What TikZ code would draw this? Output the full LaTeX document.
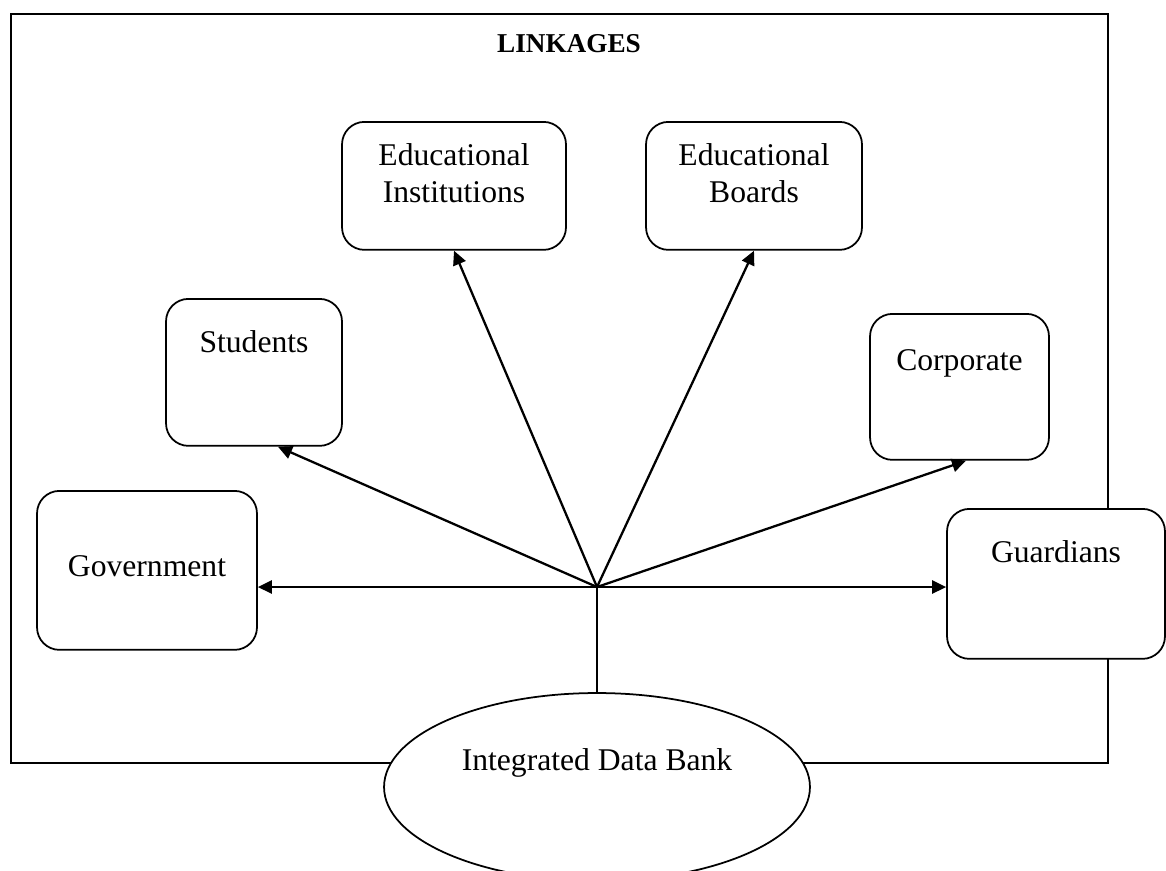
\documentclass[tikz,border=0pt]{standalone}
\usepackage{fontspec}
\setmainfont{Liberation Serif}
\usetikzlibrary{arrows.meta, shapes.geometric}

\begin{document}
\begin{tikzpicture}[x=0.02cm, y=-0.02cm,
    box/.style={draw, line width=1pt, rounded corners=0.45cm, fill=white,
        inner xsep=0pt, inner ysep=0pt, anchor=north, font=\fontsize{18}{21}\selectfont},
    link/.style={line width=1.3pt, -{Triangle[length=8pt, width=7.5pt]}}]

    \useasboundingbox (0,0) rectangle (1166,870);

    % 外框和标题
    \draw[line width=1.3pt] (11,14) rectangle (1108,763);
    \node[anchor=base, font=\fontsize{15.5}{18}\selectfont\bfseries] (title) at (569,52) {LINKAGES};

    % 各个方框
    \node[box, minimum width=4.48cm, text height=1.62cm, text depth=0.94cm] (inst) at (454,121)
        {\begin{tabular}[b]{@{}c@{}}Educational\\Institutions\end{tabular}};
    \node[box, minimum width=4.32cm, text height=1.62cm, text depth=0.94cm] (board) at (754,121)
        {\begin{tabular}[b]{@{}c@{}}Educational\\Boards\end{tabular}};
    \node[box, minimum width=3.52cm, text height=1.08cm, text depth=1.86cm] (stud) at (254,298) {Students};
    \node[box, minimum width=3.58cm, text height=1.14cm, text depth=1.78cm] (corp) at (959.5,313) {Corporate};
    \node[box, minimum width=4.4cm, text height=1.72cm, text depth=1.46cm] (gov) at (147,490) {Government};
    \node[box, minimum width=4.36cm, text height=1.08cm, text depth=1.92cm] (guard) at (1056,508) {Guardians};

    % 数据库椭圆
    \node[draw, ellipse, line width=1pt, fill=white, inner sep=0pt,
        minimum width=8.52cm, minimum height=3.76cm, text height=0.4cm, text depth=1.08cm,
        font=\fontsize{18}{21}\selectfont] (bank) at (597,787) {Integrated Data Bank};

    % 从中心点画连线
    \coordinate (hub) at (597,587);
    \draw[line width=1.1pt] (hub) -- (bank.north);
    \draw[link] (hub) -- (hub -| gov.east);
    \draw[link] (hub) -- (hub -| guard.west);
    \draw[link] (hub) -- ([xshift=0.48cm]stud.south);
    \draw[link] (hub) -- (inst.south);
    \draw[link] (hub) -- (board.south);
    \draw[link] (hub) -- ([xshift=0.13cm]corp.south);
\end{tikzpicture}
\end{document}
